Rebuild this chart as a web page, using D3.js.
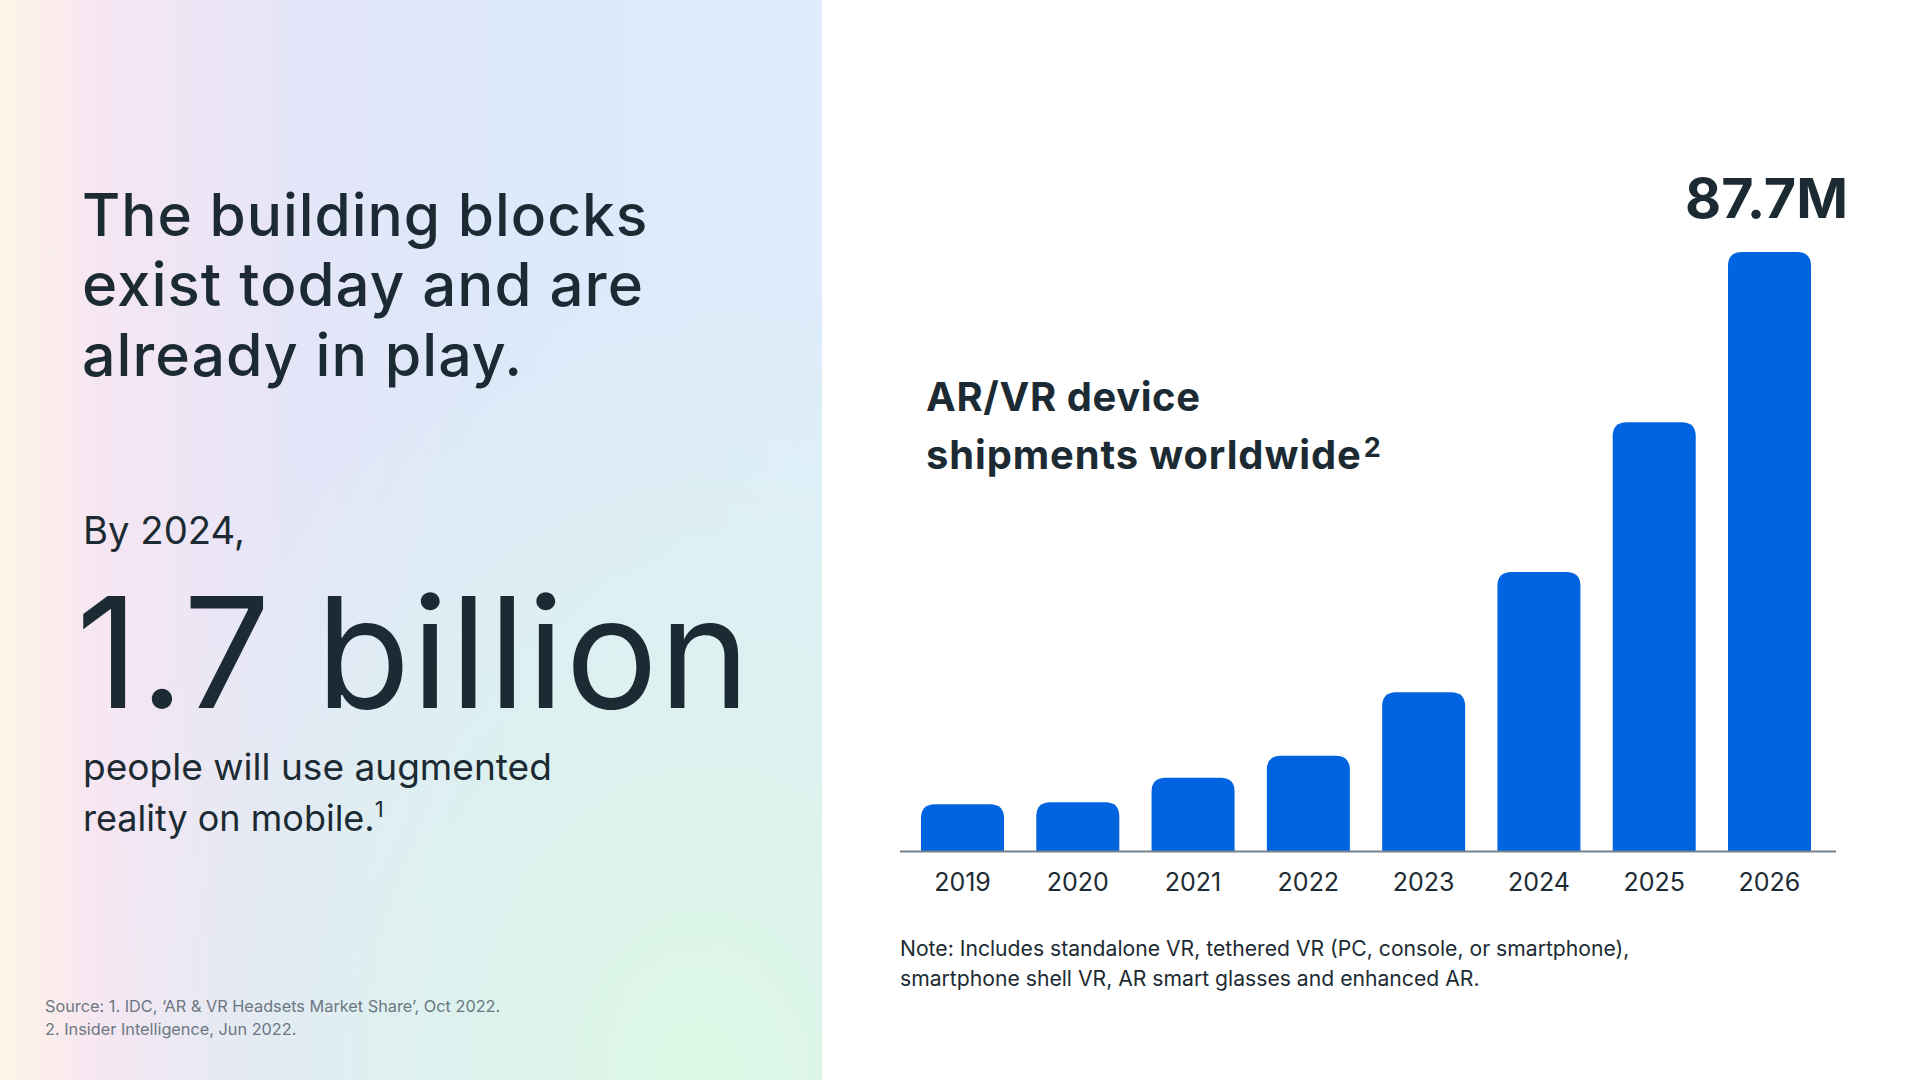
<!DOCTYPE html>
<html>
<head>
<meta charset="utf-8">
<script src="https://cdn.jsdelivr.net/npm/d3@7"></script>
<style>
	html, body { margin: 0; padding: 0; background: #ffffff; }
	svg { display: block; }
	text { font-family: Inter, "Noto Sans", sans-serif; fill: #1c2b33; }
</style>
</head>
<body>
<div id="main"></div>
<script>
// chart data
var years = ["2019", "2020", "2021", "2022", "2023", "2024", "2025", "2026"];
var shipments = [6.9, 7.2, 10.8, 14.0, 23.3, 40.9, 62.8, 87.7];   // millions
var topLabel = "87.7M";

var headline = ["The building blocks", "exist today and are", "already in play."];
var noteLines = ["Note: Includes standalone VR, tethered VR (PC, console, or smartphone),",
	"smartphone shell VR, AR smart glasses and enhanced AR."];
var sourceLines = ["Source: 1. IDC, \u2018AR & VR Headsets Market Share\u2019, Oct 2022.",
	"2. Insider Intelligence, Jun 2022."];

var slide = (function(){
	"use strict";

	var width = 1920, height = 1080;
	var svg = d3.select("#main").append("svg").attr("width", width).attr("height", height);

	// shrink / grow font so the line covers the wanted width
	function fit(sel, w){
		var fs = parseFloat(sel.attr("font-size"));
		var len = sel.node().getComputedTextLength();
		sel.attr("font-size", (fs * w / len).toFixed(2));
		return sel;
	}

	function background(){
		var defs = svg.append("defs");
		var lg = defs.append("linearGradient").attr("id", "bgLin")
			.attr("x1", 0).attr("y1", 0).attr("x2", 1).attr("y2", 0);
		[["0%", "#fef4e6"], ["12%", "#f6e6f2"], ["35%", "#e5e5f8"], ["60%", "#dde8fa"], ["100%", "#deecfb"]]
			.forEach(function(s){ lg.append("stop").attr("offset", s[0]).attr("stop-color", s[1]); });

		var rg = defs.append("radialGradient").attr("id", "bgGreen")
			.attr("cx", 0.85).attr("cy", 1.0).attr("r", 0.75);
		rg.append("stop").attr("offset", "0%").attr("stop-color", "#dcf8e4").attr("stop-opacity", 1);
		rg.append("stop").attr("offset", "55%").attr("stop-color", "#dcf6ea").attr("stop-opacity", 0.55);
		rg.append("stop").attr("offset", "100%").attr("stop-color", "#dcf6ea").attr("stop-opacity", 0);

		svg.append("rect").attr("width", 822).attr("height", height).attr("fill", "url(#bgLin)");
		svg.append("rect").attr("width", 822).attr("height", height).attr("fill", "url(#bgGreen)");
	}

	function leftText(){
		var g = svg.append("g");
		var ends = [648, 644, 523];
		headline.forEach(function(t, i){
			var s = g.append("text").attr("x", 82).attr("y", 236 + i * 70)
				.attr("font-size", 60).attr("font-weight", 500).attr("letter-spacing", 1).text(t);
			fit(s, ends[i] - 82);
		});

		fit(g.append("text").attr("x", 83).attr("y", 544).attr("font-size", 36).text("By 2024,"), 162);

		g.append("text").attr("x", 76).attr("y", 708).attr("font-size", 154)
			.attr("letter-spacing", 1.2).text("1.7 billion");

		fit(g.append("text").attr("x", 83).attr("y", 780).attr("font-size", 36)
			.text("people will use augmented"), 469);
		var l2 = g.append("text").attr("x", 83).attr("y", 831).attr("font-size", 36);
		l2.append("tspan").text("reality on mobile.");
		l2.append("tspan").attr("font-size", 22).attr("dy", -14).text("1");

		sourceLines.forEach(function(t, i){
			g.append("text").attr("x", 45).attr("y", 1012 + i * 23).attr("font-size", 16.3)
				.style("fill", "#6b7782").text(t);
		});
	}

	function chart(){
		var base = 851.5;
		var x = d3.scaleBand().domain(years).range([921, 1811]).paddingInner(0.28).paddingOuter(0);
		var y = d3.scaleLinear().domain([0, d3.max(shipments)]).range([base, 252]);
		var r = 14;

		var data = years.map(function(d, i){ return {year: d, v: shipments[i]}; });

		// bars with rounded top corners only
		svg.append("g").selectAll("path").data(data).enter().append("path")
			.attr("fill", "#0064e0")
			.attr("d", function(d){
				var x0 = x(d.year), w = x.bandwidth(), y0 = y(d.v);
				return "M" + x0 + "," + base +
					"V" + (y0 + r) +
					"Q" + x0 + "," + y0 + " " + (x0 + r) + "," + y0 +
					"H" + (x0 + w - r) +
					"Q" + (x0 + w) + "," + y0 + " " + (x0 + w) + "," + (y0 + r) +
					"V" + base + "Z";
			});

		// baseline + year labels
		var axis = svg.append("g").attr("transform", "translate(0," + base + ")")
			.call(d3.axisBottom(x).tickSize(0).tickPadding(22));
		axis.select(".domain").remove();
		axis.append("line").attr("x1", 900).attr("x2", 1836)
			.attr("stroke", "#75838e").attr("stroke-width", 2);
		axis.selectAll(".tick text").attr("font-size", 25).attr("font-family", "Inter, sans-serif")
			.style("fill", "#1c2b33").attr("dy", "0.71em");

		// value above the last bar
		fit(svg.append("text").attr("x", 1848).attr("y", 218).attr("text-anchor", "end")
			.attr("font-size", 52).attr("font-weight", 700).text(topLabel), 163);

		// chart title
		var t1 = svg.append("text").attr("x", 926).attr("y", 411).attr("font-size", 38)
			.attr("font-weight", 700).attr("letter-spacing", 0.6).text("AR/VR device");
		fit(t1, 275);
		var fs = t1.attr("font-size");
		var t2 = svg.append("text").attr("x", 926).attr("y", 469).attr("font-size", fs)
			.attr("font-weight", 700).attr("letter-spacing", 0.9);
		t2.append("tspan").text("shipments worldwide");
		t2.append("tspan").attr("font-size", 27).attr("dy", -12).attr("dx", 2).text("2");

		// note under the chart, both lines at the size that fits the first one
		var n1 = fit(svg.append("text").attr("x", 900).attr("y", 956).attr("font-size", 20).text(noteLines[0]), 730);
		svg.append("text").attr("x", 900).attr("y", 986).attr("font-size", n1.attr("font-size")).text(noteLines[1]);
	}

	background();
	leftText();
	chart();

	return { svg: svg };
})();
</script>
</body>
</html>
